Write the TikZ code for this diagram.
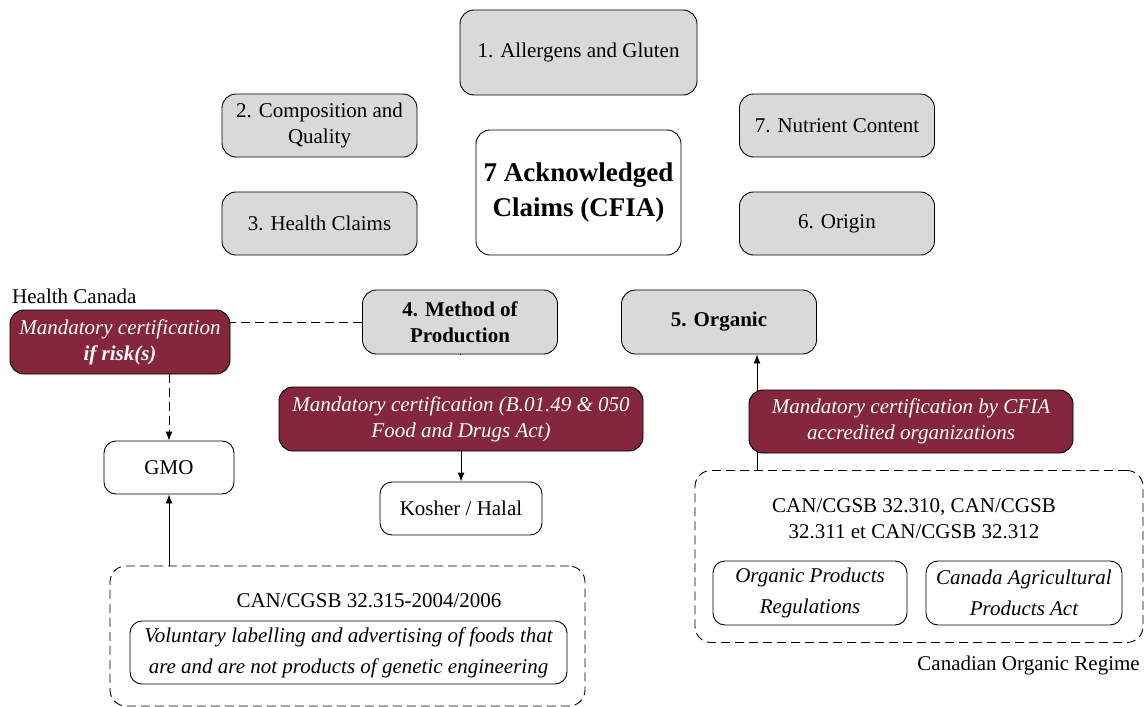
\documentclass[tikz,border=0pt]{standalone}
\usepackage{fontspec}
\setmainfont{Liberation Serif}
\usetikzlibrary{arrows.meta}
\definecolor{cfiagrey}{RGB}{217,217,217}
\definecolor{certred}{RGB}{132,38,62}

\begin{document}
\begin{tikzpicture}[x=1pt,y=-1pt,
  every node/.style={font=\fontsize{21}{26}\selectfont,inner sep=0pt},
  claim/.style={draw=black,line width=0.9pt,rounded corners=14pt,fill=cfiagrey,align=center,minimum width=195pt,minimum height=63pt},
  cert/.style={draw=black,line width=0.9pt,rounded corners=14pt,fill=certred,text=white,align=center,minimum height=64pt,font=\fontsize{21}{26}\selectfont\itshape},
  leaf/.style={draw=black,line width=0.9pt,rounded corners=12pt,fill=white,align=center},
  group/.style={draw=black,line width=0.9pt,rounded corners=16pt,dash pattern=on 9pt off 5pt},
  link/.style={line width=0.9pt,-{Latex[length=9pt,width=7pt]}},
]
  \useasboundingbox (0,0) rectangle (1144,707);

  % the seven claims round the centre
  \node[claim,minimum width=237pt,minimum height=85pt] (allergen) at (578.5,52.5) {1. Allergens and Gluten};
  \node[claim] (compo) at (319.5,125.5) {2. Composition and\\Quality};
  \node[claim] (health) at (319.5,223.5) {3. Health Claims};
  \node[claim] (nutri) at (837,125.5) {7. Nutrient Content};
  \node[claim] (origin) at (837,223.5) {6. Origin};
  \node[draw=black,line width=0.9pt,rounded corners=14pt,fill=white,align=center,minimum width=205pt,minimum height=125pt,
    font=\fontsize{27}{35}\selectfont\bfseries] (cfia) at (578.5,192.5) {7 Acknowledged\\Claims (CFIA)};
  \node[claim,minimum height=64pt,font=\fontsize{21}{26}\selectfont\bfseries] (method) at (460,322) {4. Method of\\Production};
  \node[claim,minimum height=64pt,font=\fontsize{21}{26}\selectfont\bfseries] (organic) at (719,322) {5. Organic};

  % Health Canada / GMO side
  \node[anchor=west] (hclabel) at (12,296) {Health Canada};
  \node[cert,minimum width=220pt] (riskcert) at (120,342) {Mandatory certification\\\textbf{if risk(s)}};
  \node[leaf,minimum width=130pt,minimum height=53pt] (gmo) at (169,467.5) {GMO};
  \node[group,minimum width=475pt,minimum height=140pt] (gmogroup) at (347.5,636) {};
  \node (gmostd) at (369,601) {CAN/CGSB 32.315-2004/2006};
  \node[leaf,minimum width=437pt,minimum height=63pt,font=\fontsize{21}{31}\selectfont\itshape] (gmovol) at (348.5,652.5)
    {Voluntary labelling and advertising of foods that\\are and are not products of genetic engineering};

  % method of production
  \node[cert,minimum width=364pt] (fdacert) at (461,419) {Mandatory certification (B.01.49 \& 050\\Food and Drugs Act)};
  \node[leaf,minimum width=162pt,minimum height=53pt] (kosher) at (461,508.5) {Kosher / Halal};

  % organic regime
  \node[group,minimum width=448pt,minimum height=172pt] (orggroup) at (919,556.5) {};
  \coordinate (orgfoot) at (757,471);
  \draw[link] (orggroup.north -| orgfoot) -- (organic.south -| orgfoot);
  \node[cert,minimum width=324pt,minimum height=63pt] (orgcert) at (911,421.5) {Mandatory certification by CFIA\\accredited organizations};
  \node[align=center] (orgstd) at (914,518.5) {CAN/CGSB 32.310, CAN/CGSB\\32.311 et CAN/CGSB 32.312};
  \node[leaf,minimum width=194pt,minimum height=64pt,font=\fontsize{21}{31}\selectfont\itshape] (opr) at (810,593) {Organic Products\\Regulations};
  \node[leaf,minimum width=196pt,minimum height=64pt,font=\fontsize{21}{31}\selectfont\itshape] (capa) at (1024,593) {Canada Agricultural\\Products Act};
  \node[anchor=east] (regime) at (1140,665) {Canadian Organic Regime};

  % connectors
  \draw[line width=0.9pt,dash pattern=on 9pt off 5pt] (method.west) -- (method.west -| riskcert.east);
  \draw[link,dash pattern=on 9pt off 5pt] (gmo.north |- riskcert.south) -- (gmo.north);
  \draw[link] (gmo.south |- gmogroup.north) -- (gmo.south);
  \draw[line width=0.9pt] (method.south) -- (method.south -| fdacert.north);
  \draw[link] (fdacert.south) -- (kosher.north);
\end{tikzpicture}
\end{document}
